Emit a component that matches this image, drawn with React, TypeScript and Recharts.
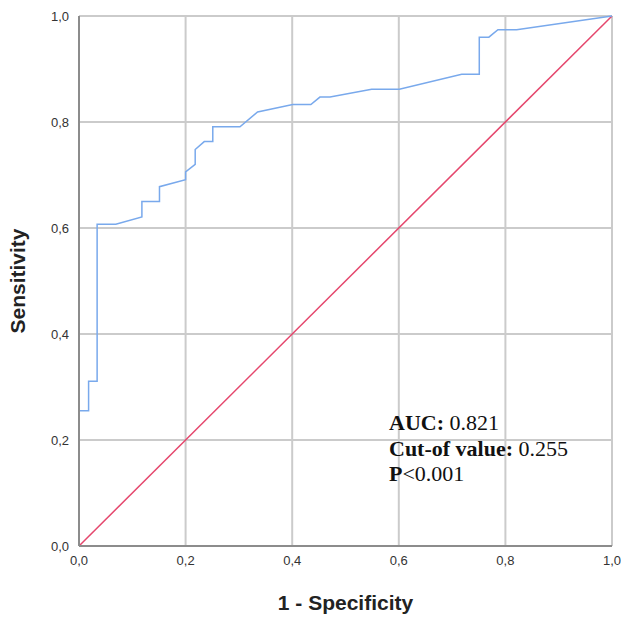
import React from 'react'
import { LineChart, Line, XAxis, YAxis, CartesianGrid } from 'recharts'

// ROC curve points
const fpr = [
  0, 0, 0.018, 0.018, 0.034, 0.034, 0.069, 0.118, 0.118, 0.151, 0.151, 0.2, 0.2,
  0.218, 0.218, 0.235, 0.251, 0.251, 0.302, 0.335, 0.401, 0.435, 0.452, 0.471,
  0.549, 0.601, 0.718, 0.751, 0.751, 0.769, 0.786, 0.821, 1,
]
const tpr = [
  0, 0.255, 0.255, 0.311, 0.311, 0.607, 0.607, 0.621, 0.65, 0.65, 0.678, 0.691,
  0.706, 0.72, 0.748, 0.763, 0.763, 0.791, 0.791, 0.819, 0.833, 0.833, 0.847,
  0.847, 0.862, 0.862, 0.89, 0.89, 0.96, 0.96, 0.974, 0.974, 1,
]
const refX = [0, 1]
const refY = [0, 1]
const ticks = [0, 0.2, 0.4, 0.6, 0.8, 1]

const rocData = fpr.map((x, i) => ({ x, y: tpr[i] }))
const refData = refX.map((x, i) => ({ x, y: refY[i] }))

const fmt = (v: number) => v.toFixed(1).replace('.', ',')

export default function App() {
  return (
    <div style={{ position: 'absolute', left: 0, top: 0, width: 621, height: 632, background: '#fff' }}>
      <LineChart
        width={621}
        height={632}
        margin={{ top: 16, right: 9, bottom: 14, left: 0 }}
      >
        <CartesianGrid stroke="#cbcbcb" strokeWidth={2} />
        <XAxis
          type="number"
          dataKey="x"
          domain={[0, 1]}
          ticks={ticks}
          tickFormatter={fmt}
          height={72}
          stroke="#8c8c8c"
          strokeWidth={2}
          tickLine={false}
          tick={{ fill: '#333', fontSize: 13, fontFamily: 'Liberation Sans' }}
          tickMargin={4}
          label={{
            value: '1 - Specificity',
            position: 'insideBottom',
            offset: 8,
            fill: '#222',
            fontSize: 21,
            fontWeight: 'bold',
            fontFamily: 'Liberation Sans',
          }}
        />
        <YAxis
          type="number"
          dataKey="y"
          domain={[0, 1]}
          ticks={ticks}
          tickFormatter={fmt}
          width={79}
          stroke="#8c8c8c"
          strokeWidth={2}
          tickLine={false}
          tick={{ fill: '#333', fontSize: 13, fontFamily: 'Liberation Sans' }}
          tickMargin={4}
          label={{
            value: 'Sensitivity',
            angle: -90,
            position: 'insideLeft',
            offset: 18,
            style: { textAnchor: 'middle' },
            fill: '#222',
            fontSize: 21,
            fontWeight: 'bold',
            fontFamily: 'Liberation Sans',
          }}
        />
        <Line
          data={refData}
          dataKey="y"
          type="linear"
          stroke="#e5476d"
          strokeWidth={1.5}
          dot={false}
          isAnimationActive={false}
        />
        <Line
          data={rocData}
          dataKey="y"
          type="linear"
          stroke="#79a9ec"
          strokeWidth={1.5}
          dot={false}
          isAnimationActive={false}
        />
      </LineChart>
      <div
        style={{
          position: 'absolute',
          left: 389,
          top: 410,
          fontFamily: 'Liberation Serif',
          fontSize: 22,
          lineHeight: '25.5px',
          color: '#111',
        }}
      >
        <div><b>AUC:</b> 0.821</div>
        <div><b>Cut-of value:</b> 0.255</div>
        <div><b>P</b>&lt;0.001</div>
      </div>
    </div>
  )
}
